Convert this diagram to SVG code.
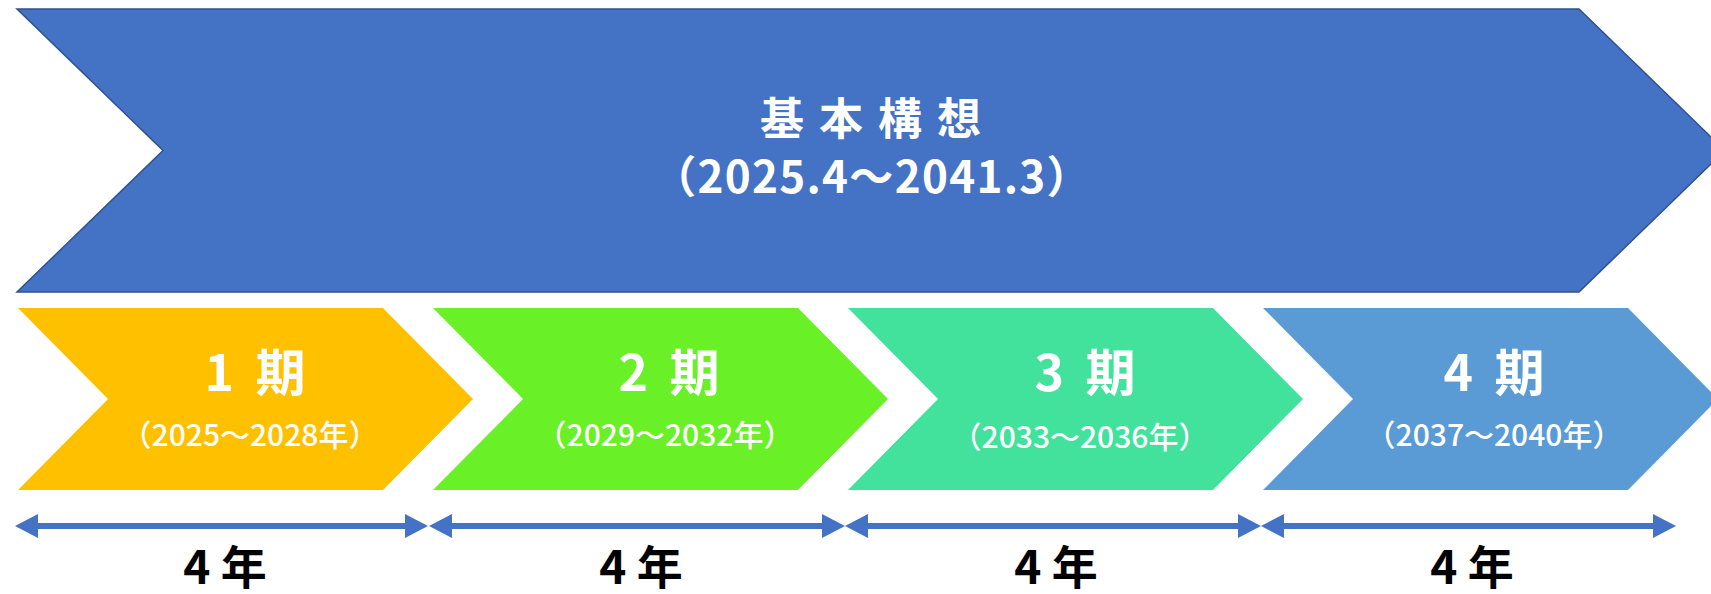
<svg xmlns="http://www.w3.org/2000/svg" width="1711" height="594" viewBox="0 0 1711 594">
<style>
.t{font-family:"Noto Sans CJK JP","Noto Sans",sans-serif;text-anchor:middle}
.w{fill:#ffffff}
.main{font-size:44px;font-weight:700;letter-spacing:15px}
.main2{font-size:44px;font-weight:700;letter-spacing:1.3px}
.ph{font-size:50px;font-weight:700;word-spacing:10px}
.sub{font-size:30px;font-weight:500}
.yr{font-size:46px;font-weight:700;fill:#000000}
.dbl{stroke:#4472C4;stroke-width:6;fill:none}
.hd{fill:#4472C4}
</style>
<rect width="1711" height="594" fill="#ffffff"/>
<g id="kihon">
<polygon points="17,9 1579,9 1725,150.5 1579,292 17,292 163,150.5" fill="#4472C4" stroke="#2F528F" stroke-width="1.5"/>
<text class="t w main" x="878" y="135">基本構想</text>
<text class="t w main2" x="872" y="193">（2025.4～2041.3）</text>
</g>
<g id="phase1">
<polygon points="18,308 383,308 473,399 383,490 18,490 108,399" fill="#FFC000"/>
<text class="t w ph" x="255" y="391">1 期</text>
<text class="t w sub" x="250" y="446">（2025～2028年）</text>
</g>
<g id="phase2">
<polygon points="433,308 798,308 888,399 798,490 433,490 523,399" fill="#6AF027"/>
<text class="t w ph" x="669" y="391">2 期</text>
<text class="t w sub" x="665" y="446">（2029～2032年）</text>
</g>
<g id="phase3">
<polygon points="848,308 1213,308 1303,399 1213,490 848,490 938,399" fill="#43E29C"/>
<text class="t w ph" x="1085" y="391">3 期</text>
<text class="t w sub" x="1080" y="448">（2033～2036年）</text>
</g>
<g id="phase4">
<polygon points="1263,308 1628,308 1718,399 1628,490 1263,490 1353,399" fill="#5B9BD5"/>
<text class="t w ph" x="1494" y="391">4 期</text>
<text class="t w sub" x="1494" y="446">（2037～2040年）</text>
</g>
<g id="connectors">
<line class="dbl" x1="30" y1="526" x2="413" y2="526"/>
<polygon class="hd" points="15,526 38,514 38,538"/>
<polygon class="hd" points="428,526 405,514 405,538"/>
<line class="dbl" x1="444" y1="526" x2="830" y2="526"/>
<polygon class="hd" points="429,526 452,514 452,538"/>
<polygon class="hd" points="845,526 822,514 822,538"/>
<line class="dbl" x1="860" y1="526" x2="1246" y2="526"/>
<polygon class="hd" points="845,526 868,514 868,538"/>
<polygon class="hd" points="1261,526 1238,514 1238,538"/>
<line class="dbl" x1="1276" y1="526" x2="1661" y2="526"/>
<polygon class="hd" points="1261,526 1284,514 1284,538"/>
<polygon class="hd" points="1676,526 1653,514 1653,538"/>
</g>
<g id="labels">
<text class="t yr" x="225" y="584">4 年</text>
<text class="t yr" x="641" y="584">4 年</text>
<text class="t yr" x="1056" y="584">4 年</text>
<text class="t yr" x="1472" y="584">4 年</text>
</g>
</svg>
